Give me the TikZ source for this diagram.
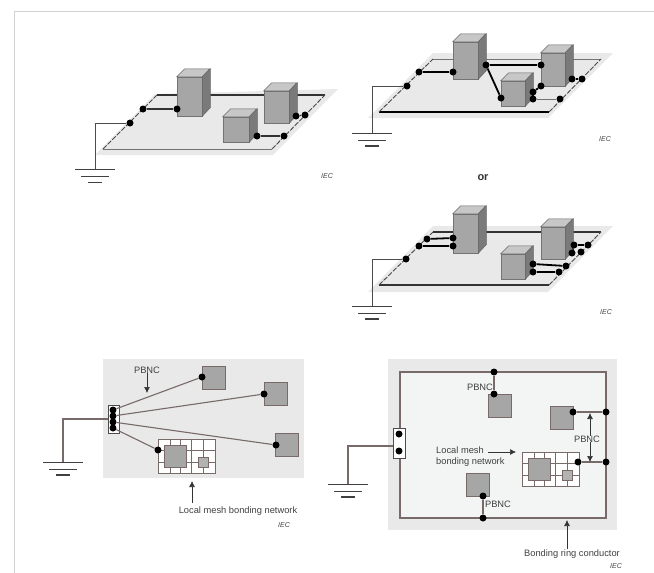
\documentclass[tikz,border=0pt]{standalone}
\usepackage{fontspec}
\setmainfont{Liberation Sans}
\usepackage{xcolor}
\usepackage{tikz}
\usetikzlibrary{arrows.meta,calc}
\definecolor{paneback}{HTML}{E9E9E9}
\definecolor{ringback}{HTML}{F3F4F4}
\definecolor{bondline}{HTML}{776A68}
\tikzset{
  bonddot/.style={circle, fill=black, inner sep=0pt, minimum size=7pt},
  boxfront/.style={draw=black!55, fill=black!35, line width=0.5pt, inner sep=0pt},
  boxtop/.style={draw=black!60, fill=black!22, line width=0.5pt},
  boxside/.style={draw=black!60, fill=black!52, line width=0.5pt},
  plateback/.style={fill=paneback, draw=none},
  plateedge/.style={draw=black!80, line width=1.1pt},
  plateside/.style={draw=black!70, line width=0.9pt, dashed, dash pattern=on 5pt off 1.5pt},
  thinwire/.style={draw=black!55, line width=1pt},
  thickwire/.style={draw=black, line width=1.8pt},
  gndwire/.style={draw=black!70, line width=0.9pt},
  gndbar/.style={draw=black!75, line width=1pt},
  devsquare/.style={draw=bondline, fill=black!35, line width=0.9pt, inner sep=0pt},
  bondwire/.style={draw=bondline, line width=1.1pt},
  meshline/.style={draw=bondline, line width=0.7pt},
  termbox/.style={draw=black!70, fill=white, line width=0.7pt, inner sep=0pt},
  callout/.style={-{Latex[length=6pt,width=6pt]}, draw=black!80, line width=0.7pt},
  caption/.style={font=\fontsize{9.3}{11}\selectfont, text=black!75, inner sep=0pt, align=left},
  ieclabel/.style={font=\fontsize{7}{8}\selectfont\itshape, text=black!75, inner sep=0pt}
}
% front face plus top and side faces of one cabinet
\newcommand{\eqbox}[4]{
  \node[boxfront, minimum width=#3pt, minimum height=#4pt] (#1) at (#2) {};
  \draw[boxtop] (#1.north west) -- ++(8,-8) -- ++(#3,0) -- (#1.north east) -- cycle;
  \draw[boxside] (#1.north east) -- ++(8,-8) -- ++(0,#4) -- (#1.south east) -- cycle;
}
% earth symbol below a named coordinate
\newcommand{\earthbars}[2]{
  \draw[gndbar] (#1) ++(-20,0) -- ++(40,0);
  \draw[gndbar] (#1) ++(-14,7) -- ++(28,0);
  \draw[gndbar, line width=#2] (#1) ++(-7,13) -- ++(14,0);
}
% local mesh, #2 is its upper left corner
\newcommand{\meshnet}[2]{
  \coordinate (#1) at (#2);
  \draw[meshline, fill=white] (#1) rectangle ++(57,34);
  \foreach \v in {12,22} {\draw[meshline] (#1) ++(\v,0) -- ++(0,34);}
  \draw[meshline] (#1) ++(33,0) -- ++(0,34);
  \draw[meshline] (#1) ++(45,0) -- ++(0,34);
  \foreach \h in {11,23} {\draw[meshline] (#1) ++(0,\h) -- ++(57,0);}
  \node[devsquare, minimum size=22pt, anchor=north west] (#1big) at ($(#1)+(6,6)$) {};
  \node[devsquare, minimum size=10pt, fill=black!30, anchor=north west] (#1small) at ($(#1)+(40,18)$) {};
}
\begin{document}
\begin{tikzpicture}[x=1pt,y=-1pt]
\useasboundingbox (0,0) rectangle (654,573);
\draw[draw=black!18, line width=1pt] (14,573) -- (14,11) -- (654,11);

% upper left plate
\fill[plateback] (95,155) -- (155,94) -- (338,89) -- (273,155) -- cycle;
\coordinate (atl) at (157,95);
\coordinate (atr) at (325,95);
\coordinate (abr) at (272,149);
\coordinate (abl) at (103,149);
\draw[plateedge] (atl) -- (atr);
\draw[thinwire] (abl) -- (abr);
\draw[plateside] (abl) -- (atl);
\draw[plateside] (abr) -- (atr);
\eqbox{atall}{189.5,96.5}{25}{39}
\eqbox{aback}{276.5,107}{25}{32}
\eqbox{afront}{236,129.5}{26}{25}
\foreach \n/\x/\y in {aa/130/123,ab/143/109,ac/177/109,ad/296/116,ae/305/115,af/257/136,ag/284/136} {
  \node[bonddot] (\n) at (\x,\y) {};
}
\draw[plateedge] (ab) -- (ac);
\draw[plateedge] (ad) -- (ae);
\draw[plateedge] (af) -- (ag);
\coordinate (agnd) at (95,169);
\draw[gndwire] (aa) -| (agnd);
\earthbars{agnd}{0.9pt}
\node[ieclabel] (aiec) at (327,176) {IEC};

% upper right plate
\fill[plateback] (368,118) -- (433,53) -- (613,53) -- (548,118) -- cycle;
\coordinate (btl) at (433,59);
\coordinate (btr) at (601,59);
\coordinate (bbr) at (549,112);
\coordinate (bbl) at (379,112);
\draw[thinwire] (btl) -- (btr);
\draw[thickwire] (bbl) -- (bbr);
\draw[plateside] (bbl) -- (btl);
\draw[plateside] (bbr) -- (btr);
\eqbox{btall}{465.5,60.5}{25}{37}
\eqbox{bback}{553,69.5}{24}{33}
\eqbox{bfront}{513,93.5}{24}{25}
\foreach \n/\x/\y in {ba/407/86,bb/419/72,bc/453/72,bd/486/65,be/541/65,bf/501/98,bg/541/86,bh/533/92,bi/533/99,bj/560/99,bk/572/79,bl/582/79} {
  \node[bonddot] (\n) at (\x,\y) {};
}
\draw[thickwire] (bb) -- (bc);
\draw[thickwire] (bd) -- (be);
\draw[thickwire] (bd) -- (bf);
\draw[thickwire] (bg) -- (bh);
\draw[thickwire] (bh) -- (bi);
\draw[thickwire] (bk) -- (bl);
\draw[thinwire] (bi) -- (bj);
\coordinate (bgnd) at (372,133);
\draw[gndwire] (ba) -| (bgnd);
\earthbars{bgnd}{1.6pt}
\node[ieclabel] (biec) at (605,139) {IEC};

\node[font=\fontsize{11}{13}\selectfont\bfseries, text=black!80, inner sep=0pt] (ortext) at (483,178) {or};

% middle right plate
\fill[plateback] (368,292) -- (433,226) -- (613,226) -- (548,292) -- cycle;
\coordinate (ctl) at (433,232);
\coordinate (ctr) at (601,232);
\coordinate (cbr) at (549,285);
\coordinate (cbl) at (379,285);
\draw[plateedge] (ctl) -- (ctr);
\draw[plateedge] (cbl) -- (cbr);
\draw[plateside] (cbl) -- (ctl);
\draw[plateside] (cbr) -- (ctr);
\eqbox{ctall}{465.5,233.5}{25}{39}
\eqbox{cback}{553,243}{24}{32}
\eqbox{cfront}{513,266.5}{24}{25}
\foreach \n/\x/\y in {ca/406/259,cb/419/246,cc/427/239,cd/453/238,ce/453/246,cf/574/245,cg/588/245,ch/572/253,ci/581/252,cj/533/264,ck/566/266,cl/533/272,cm/559/272} {
  \node[bonddot] (\n) at (\x,\y) {};
}
\draw[thickwire] (cc) -- (cd);
\draw[thickwire] (cb) -- (ce);
\draw[thickwire] (cf) -- (cg);
\draw[thickwire] (ch) -- (cf);
\draw[thickwire] (cj) -- (ck);
\draw[thickwire] (cl) -- (cm);
\coordinate (cgnd) at (372,306);
\draw[gndwire] (ca) -| (cgnd);
\earthbars{cgnd}{1.6pt}
\node[ieclabel] (ciec) at (606,312) {IEC};

% lower left star network
\fill[plateback] (103,359) rectangle (304,478);
\node[termbox, minimum width=11pt, minimum height=28pt] (dterm) at (113.5,419) {};
\node[devsquare, minimum size=23pt] (dsqa) at (214,377.5) {};
\node[devsquare, minimum size=23pt] (dsqb) at (275.5,394) {};
\node[devsquare, minimum size=23pt] (dsqc) at (286.5,444.5) {};
\meshnet{dmesh}{158,439}
\foreach \n/\x/\y in {da/113/410,db/113/416,dc/113/422,dd/113/428,de/202/377,df/264/394,dg/276/445,dh/158/450} {
  \node[bonddot] (\n) at (\x,\y) {};
}
\draw[bondwire] (da) -- (de);
\draw[bondwire] (db) -- (df);
\draw[bondwire] (dc) -- (dg);
\draw[bondwire] (dd) -- (dh);
\coordinate (dgnd) at (63,462);
\draw[bondwire] (dterm.west) -| (dgnd);
\earthbars{dgnd}{1.6pt}
\node[caption] (dpbnc) at (147,370) {PBNC};
\coordinate (dpend) at (147,393);
\draw[callout] (dpbnc) -- (dpend);
\node[caption] (dmeshtext) at (238,511) {Local mesh bonding network};
\coordinate (dmend) at (192,481);
\draw[callout] (192,503) -- (dmend);
\node[ieclabel] (diec) at (284,525) {IEC};

% lower right ring network
\fill[plateback] (388,359) rectangle (617,530);
\coordinate (ringa) at (400,372);
\coordinate (ringb) at (606,518);
\draw[bondwire, fill=ringback] (ringa) rectangle (ringb);
\node[termbox, minimum width=12pt, minimum height=30pt] (eterm) at (399,443) {};
\node[devsquare, minimum size=23pt] (esqa) at (500,405.5) {};
\node[devsquare, minimum size=23pt] (esqb) at (561.5,417.5) {};
\node[devsquare, minimum size=23pt] (esqc) at (477.5,485) {};
\meshnet{emesh}{522,452}
\foreach \n/\x/\y in {ea/399/434,eb/399/451,ec/494/372,ed/494/394,ee/573/412,ef/606/412,eg/578/462,eh/606/462,ei/483/496,ej/483/518} {
  \node[bonddot] (\n) at (\x,\y) {};
}
\draw[bondwire] (ec) -- (ed);
\draw[bondwire] (ee) -- (ef);
\draw[bondwire] (eg) -- (eh);
\draw[bondwire] (ei) -- (ej);
\coordinate (egnd) at (348,484);
\draw[bondwire] (eterm.west |- 0,446) -| (egnd);
\earthbars{egnd}{1.6pt}
\node[caption] (epbnca) at (480,387) {PBNC};
\node[caption] (epbncb) at (587,439) {PBNC};
\node[caption] (epbncc) at (498,504) {PBNC};
\coordinate (eupper) at (590,413);
\coordinate (elower) at (590,462);
\draw[callout] (epbncb.north -| eupper) -- (eupper);
\draw[callout] (epbncb.south -| elower) -- (elower);
\node[caption, anchor=west] (emeshtext) at (436,456.5) {Local mesh\\bonding network};
\coordinate (emend) at (516,452);
\draw[callout] (488,452) -- (emend);
\node[caption] (eringtext) at (572,554) {Bonding ring conductor};
\coordinate (erend) at (567,520);
\draw[callout] (eringtext.north -| erend) -- (erend);
\node[ieclabel] (eiec) at (616,566) {IEC};
\end{tikzpicture}
\end{document}
